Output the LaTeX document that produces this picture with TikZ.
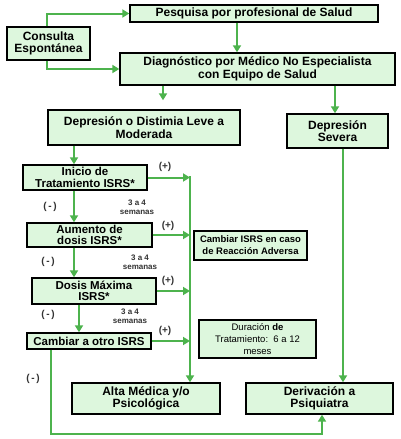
\documentclass[tikz,border=0pt]{standalone}
\usepackage{fontspec}
\setmainfont{Liberation Sans}
\usetikzlibrary{arrows.meta}
\definecolor{boxfill}{HTML}{DDF7DD}
\definecolor{arrgreen}{HTML}{4DB34D}
\begin{document}
\begin{tikzpicture}[x=1pt,y=-1pt,
  box/.style={draw=black,line width=1.4pt,fill=boxfill,inner sep=0pt,align=center,
     font=\fontsize{12}{12.5}\selectfont\bfseries},
  smallbox/.style={box,font=\fontsize{9.5}{12}\selectfont\bfseries},
  arr/.style={draw=arrgreen,line width=2pt,-{Triangle[length=7pt,width=8pt]}},
  ln/.style={draw=arrgreen,line width=2pt},
  lbl/.style={font=\fontsize{10}{10}\selectfont\bfseries,text=black!80,inner sep=0pt},
  wk/.style={font=\fontsize{8}{9.5}\selectfont\bfseries,text=black!80,align=center,inner sep=0pt}]
\useasboundingbox (0,0) rectangle (401,439);
\fill[white] (0,0) rectangle (401,439);
% boxes
\node[box,minimum width=248pt,minimum height=17pt] (pesq) at (254,13.5) {Pesquisa por profesional de Salud};
\node[box,minimum width=83pt,minimum height=33pt] (cons) at (48.5,43.5) {Consulta\\Espont\'anea};
\node[box,minimum width=275pt,minimum height=32pt] (diag) at (257.5,69) {Diagn\'ostico por M\'edico No Especialista\\con Equipo de Salud};
\node[box,minimum width=192pt,minimum height=35pt] (dlm) at (144,127.5) {Depresi\'on o Distimia Leve a\\Moderada};
\node[box,minimum width=101pt,minimum height=34pt] (dsev) at (337.5,131) {Depresi\'on\\Severa};
\node[box,minimum width=124pt,minimum height=25pt,font=\fontsize{11.5}{11.5}\selectfont\bfseries] (ini) at (85,177.5) {Inicio de\\Tratamiento ISRS*};
\node[box,minimum width=125pt,minimum height=24pt,font=\fontsize{11.5}{11.5}\selectfont\bfseries] (aum) at (89.5,235) {Aumento de\\dosis ISRS*};
\node[smallbox,minimum width=113pt,minimum height=29pt] (camb) at (250.5,245.5) {Cambiar ISRS en caso\\de Reacci\'on Adversa};
\node[box,minimum width=124pt,minimum height=26pt,font=\fontsize{11.5}{11.5}\selectfont\bfseries] (dmax) at (94,291) {Dosis M\'axima\\ISRS*};
\node[box,minimum width=124pt,minimum height=16pt,font=\fontsize{11.5}{11.5}\selectfont\bfseries] (otro) at (89,341) {Cambiar a otro ISRS};
\node[smallbox,minimum width=117pt,minimum height=38pt,font=\fontsize{9.5}{12}\selectfont] (dur) at (257.5,339) {Duraci\'on \textbf{de}\\Tratamiento:\ \ 6 a 12\\meses};
\node[box,minimum width=148pt,minimum height=31pt] (alta) at (146,398.5) {Alta M\'edica y/o\\Psicol\'ogica};
\node[box,minimum width=147pt,minimum height=31pt] (deriv) at (319.5,398.5) {Derivaci\'on a\\Psiquiatra};
% helper coordinates
\coordinate (xp) at (237,0);
\coordinate (xd) at (163,0);
\coordinate (xs) at (335,0);
\coordinate (xs2) at (343,0);
\coordinate (xa) at (74,0);
\coordinate (xm) at (79,0);
\coordinate (xt) at (190,0);
\coordinate (xo) at (51,0);
\coordinate (xr) at (322,0);
\coordinate (yb) at (0,434);
\coordinate (ytop) at (0,176);
% connectors
\draw[arr] (cons.north -| 47,0) |- (pesq.west);
\draw[arr] (cons.south -| 47,0) |- (diag.west);
\draw[arr] (pesq.south -| xp) -- (diag.north -| xp);
\draw[arr,shorten >=9pt] (diag.south -| xd) -- (dlm.north -| xd);
\draw[arr] (diag.south -| xs) -- (dsev.north -| xs);
\draw[arr] (dlm.south -| xa) -- (ini.north -| xa);
\draw[arr] (ini.south -| xa) -- (aum.north -| xa);
\draw[arr] (aum.south -| xa) -- (dmax.north -| xa);
\draw[arr] (dmax.south -| xm) -- (otro.north -| xm);
\draw[arr] (xt |- ytop) -- (alta.north -| xt);
\draw[arr] (ini.east) -- (ini.east -| xt);
\draw[arr] (aum.east) -- (aum.east -| xt);
\draw[arr] (dmax.east) -- (dmax.east -| xt);
\draw[arr] (otro.east) -- (otro.east -| xt);
\draw[arr] (dsev.south -| xs2) -- (deriv.north -| xs2);
\draw[arr] (otro.south -| xo) -- (xo |- yb) -- (xr |- yb) -- (deriv.south -| xr);
% labels
\node[lbl] (p1) at (165,167) {(+)};
\node[lbl] (p2) at (168,226) {(+)};
\node[lbl] (p3) at (168,281) {(+)};
\node[lbl] (p4) at (165,331) {(+)};
\node[lbl] (m1) at (50,207) {(\,-\,)};
\node[lbl] (m2) at (48,262) {(\,-\,)};
\node[lbl] (m3) at (48,315) {(\,-\,)};
\node[lbl] (m4) at (33,379) {(\,-\,)};
\node[wk] (w1) at (137,207) {3 a 4\\semanas};
\node[wk] (w2) at (140,262) {3 a 4\\semanas};
\node[wk] (w3) at (130,316) {3 a 4\\semanas};
\end{tikzpicture}
\end{document}
